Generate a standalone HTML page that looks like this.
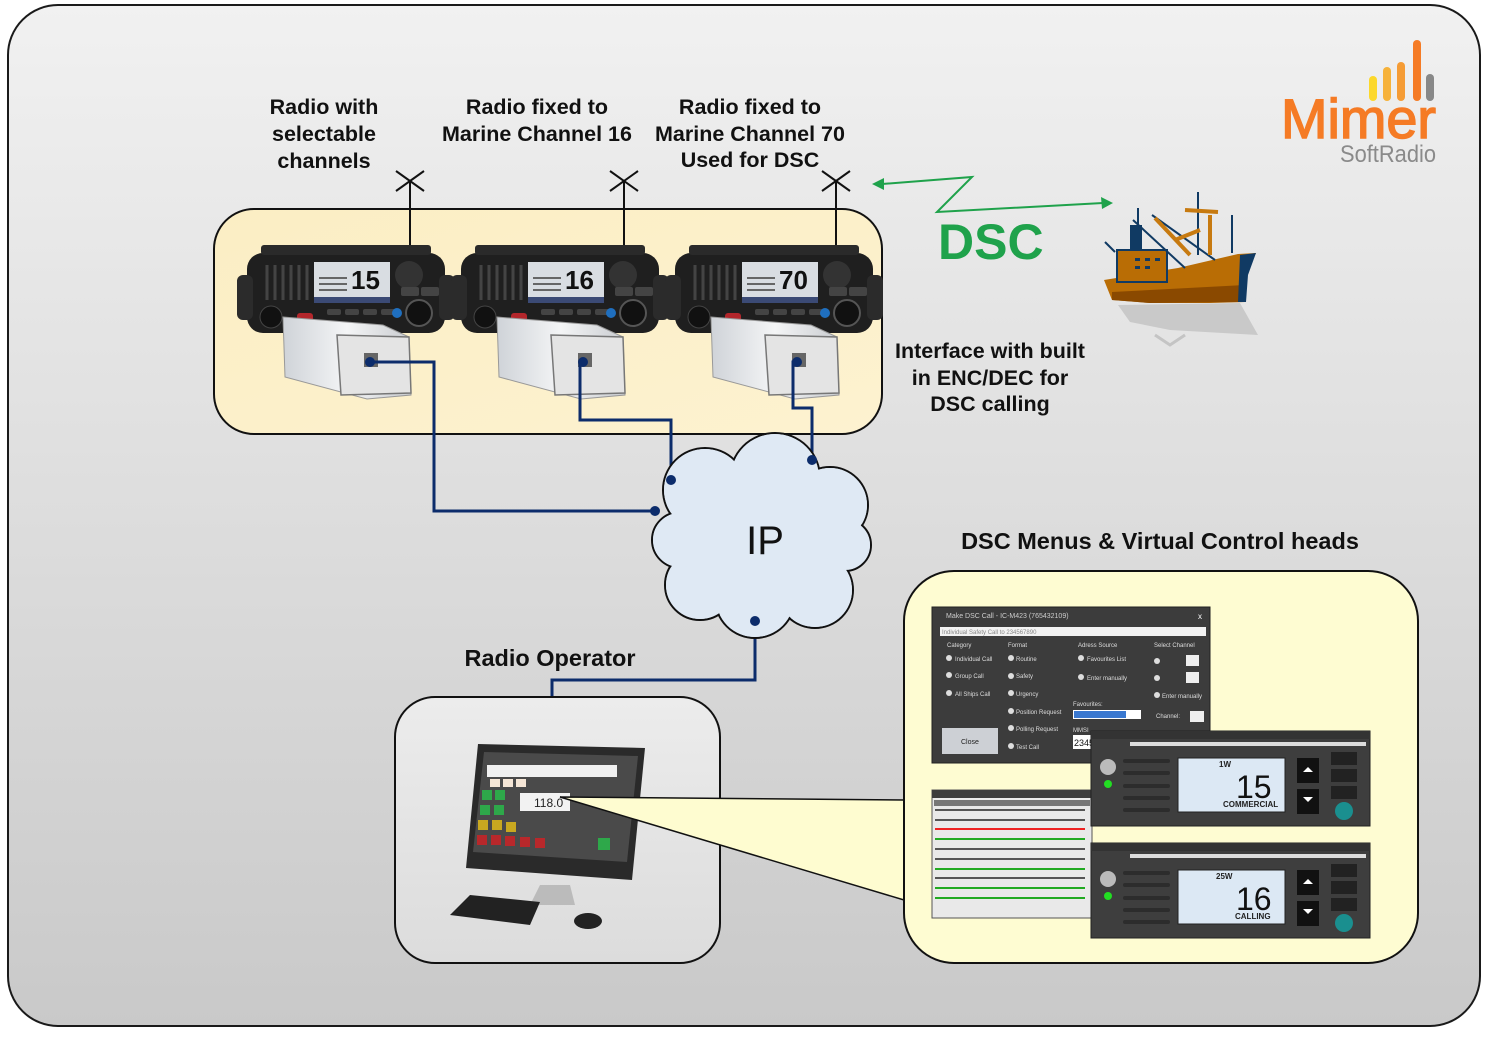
<!DOCTYPE html>
<html><head><meta charset="utf-8"><style>html,body{margin:0;padding:0;background:#fff}svg{display:block}text{font-family:"Liberation Sans",sans-serif}</style></head><body>
<svg width="1488" height="1037" viewBox="0 0 1488 1037" xmlns="http://www.w3.org/2000/svg">
<defs>
<linearGradient id="bg" x1="0" y1="0" x2="0" y2="1"><stop offset="0" stop-color="#f1f1f1"/><stop offset="1" stop-color="#c9c9c9"/></linearGradient>
<linearGradient id="yb" x1="0" y1="0" x2="1" y2="1"><stop offset="0" stop-color="#fbeec4"/><stop offset="1" stop-color="#fdf2d0"/></linearGradient>
<linearGradient id="opb" x1="0" y1="0" x2="0" y2="1"><stop offset="0" stop-color="#ececec"/><stop offset="1" stop-color="#dcdcdc"/></linearGradient>
<linearGradient id="box" x1="0" y1="0" x2="1" y2="0"><stop offset="0" stop-color="#cfd3d8"/><stop offset="0.5" stop-color="#f4f5f6"/><stop offset="1" stop-color="#c9ccd0"/></linearGradient>
<g id="radio">
<rect x="0" y="8" width="198" height="80" rx="16" fill="#1f1f1f"/>
<rect x="-10" y="30" width="16" height="45" rx="6" fill="#2b2b2b"/>
<rect x="192" y="30" width="16" height="45" rx="6" fill="#2b2b2b"/>
<rect x="14" y="0" width="170" height="10" rx="3" fill="#2a2a2a"/>
<g stroke="#444" stroke-width="3"><line x1="20" y1="20" x2="20" y2="55"/><line x1="28" y1="20" x2="28" y2="55"/><line x1="36" y1="20" x2="36" y2="55"/><line x1="44" y1="20" x2="44" y2="55"/><line x1="52" y1="20" x2="52" y2="55"/><line x1="60" y1="20" x2="60" y2="55"/></g>
<rect x="67" y="17" width="76" height="41" fill="#d9dde2"/>
<rect x="67" y="52" width="76" height="6" fill="#3b4a75"/>
<rect x="72" y="32" width="28" height="2" fill="#666"/><rect x="72" y="38" width="28" height="2" fill="#666"/><rect x="72" y="44" width="28" height="2" fill="#666"/>
<rect x="50" y="68" width="16" height="14" rx="3" fill="#b3262b"/>
<circle cx="24" cy="72" r="11" fill="#111" stroke="#444"/>
<rect x="80" y="64" width="14" height="6" rx="2" fill="#444"/><rect x="98" y="64" width="14" height="6" rx="2" fill="#444"/><rect x="116" y="64" width="14" height="6" rx="2" fill="#444"/><rect x="134" y="64" width="14" height="6" rx="2" fill="#444"/>
<circle cx="162" cy="30" r="14" fill="#333"/>
<rect x="154" y="42" width="18" height="9" rx="2" fill="#444"/><rect x="174" y="42" width="18" height="9" rx="2" fill="#444"/>
<circle cx="172" cy="68" r="13" fill="#111" stroke="#555" stroke-width="2"/>
<circle cx="150" cy="68" r="5" fill="#1f6fbf"/>
</g>
<g id="ifb">
<polygon points="36,72 136,80 162,92 164,150 120,154 38,132" fill="url(#box)" stroke="#999"/>
<polygon points="90,90 162,92 164,148 94,150" fill="#e4e4e4" stroke="#777" stroke-width="1.5"/>
<rect x="117" y="108" width="14" height="14" fill="#666"/>
</g>
</defs>
<rect x="8" y="5" width="1472" height="1021" rx="50" fill="url(#bg)" stroke="#1a1a1a" stroke-width="2"/>

<!-- Logo -->
<g stroke-linecap="round" stroke-width="8">
<line x1="1373" y1="80" x2="1373" y2="97" stroke="#fcd82b"/>
<line x1="1387" y1="71" x2="1387" y2="97" stroke="#f6b23a"/>
<line x1="1401" y1="66" x2="1401" y2="97" stroke="#f59c35"/>
<line x1="1417" y1="44" x2="1417" y2="97" stroke="#f57b25"/>
<line x1="1430" y1="78" x2="1430" y2="97" stroke="#888"/>
</g>
<text x="1281" y="138" font-size="56" fill="#f57b25" stroke="#f57b25" stroke-width="1.5" textLength="155" lengthAdjust="spacingAndGlyphs">Mimer</text>
<text x="1340" y="162" font-size="24" fill="#8a8a8a" textLength="96" lengthAdjust="spacingAndGlyphs">SoftRadio</text>

<!-- top labels -->
<g font-size="21.5" font-weight="bold" fill="#111" text-anchor="middle">
<text x="324" y="114">Radio with</text><text x="324" y="141">selectable</text><text x="324" y="168">channels</text>
<text x="537" y="114">Radio fixed to</text><text x="537" y="141">Marine Channel 16</text>
<text x="750" y="114">Radio fixed to</text><text x="750" y="141">Marine Channel 70</text><text x="750" y="167">Used for DSC</text>
<text x="990" y="358">Interface with built</text><text x="990" y="385">in ENC/DEC for</text><text x="990" y="411">DSC calling</text>
<text x="1160" y="549" font-size="23.5">DSC Menus &amp; Virtual Control heads</text>
<text x="550" y="666" font-size="23.5">Radio Operator</text>
</g>

<!-- yellow radio box -->
<rect x="214" y="209" width="668" height="225" rx="40" fill="url(#yb)" stroke="#111" stroke-width="2"/>
<g stroke="#111" stroke-width="2">
<line x1="410" y1="181" x2="410" y2="248"/><line x1="396" y1="171" x2="424" y2="191"/><line x1="396" y1="191" x2="424" y2="171"/>
<line x1="624" y1="181" x2="624" y2="248"/><line x1="610" y1="171" x2="638" y2="191"/><line x1="610" y1="191" x2="638" y2="171"/>
<line x1="836" y1="181" x2="836" y2="248"/><line x1="822" y1="171" x2="850" y2="191"/><line x1="822" y1="191" x2="850" y2="171"/>
</g>
<g transform="translate(247,245)"><use href="#radio"/><text x="104" y="44" font-size="26" font-weight="bold" fill="#111">15</text><use href="#ifb"/></g>
<g transform="translate(461,245)"><use href="#radio"/><text x="104" y="44" font-size="26" font-weight="bold" fill="#111">16</text><use href="#ifb"/></g>
<g transform="translate(675,245)"><use href="#radio"/><text x="104" y="44" font-size="26" font-weight="bold" fill="#111">70</text><use href="#ifb"/></g>

<!-- DSC -->
<text x="938" y="259" font-size="50" font-weight="bold" fill="#1fa24b">DSC</text>
<polyline points="882,184 972,177 937,212 1103,203" fill="none" stroke="#1fa24b" stroke-width="2"/>
<polygon points="872,184 884,178 884,190" fill="#1fa24b"/>
<polygon points="1113,203 1101,197 1102,209" fill="#1fa24b"/>

<!-- ship -->
<g>
<polygon points="1118,305 1240,303 1258,335 1170,330 1130,322" fill="#c9c9c9"/>
<polyline points="1155,335 1170,345 1185,335 M1185,345 1200,355 1215,345" fill="none" stroke="#c4c4c4" stroke-width="3"/>
<polygon points="1104,280 1178,268 1238,254 1256,253 1248,270 1245,302 1210,303 1150,303 1112,300" fill="#b96d05"/>
<polygon points="1112,292 1245,285 1245,302 1150,303 1112,300" fill="#8a4900"/>
<polygon points="1240,255 1256,253 1248,275 1246,302 1238,302" fill="#103a63"/>
<rect x="1117" y="250" width="50" height="32" fill="#b96d05" stroke="#103a63" stroke-width="2"/>
<rect x="1130" y="225" width="12" height="25" fill="#103a63"/>
<g fill="#103a63"><rect x="1135" y="258" width="5" height="3"/><rect x="1145" y="258" width="5" height="3"/><rect x="1155" y="258" width="5" height="3"/><rect x="1135" y="266" width="5" height="3"/><rect x="1145" y="266" width="5" height="3"/></g>
<g stroke="#103a63" stroke-width="2" fill="none"><line x1="1138" y1="208" x2="1138" y2="225"/><line x1="1198" y1="192" x2="1198" y2="255"/><line x1="1232" y1="215" x2="1232" y2="253"/><line x1="1133" y1="220" x2="1185" y2="268"/><line x1="1152" y1="215" x2="1215" y2="260"/><line x1="1105" y1="242" x2="1115" y2="252"/></g>
<g stroke="#c77a10" stroke-width="4" fill="none"><line x1="1185" y1="210" x2="1218" y2="212"/><line x1="1155" y1="218" x2="1190" y2="255"/><line x1="1175" y1="240" x2="1200" y2="230"/><line x1="1210" y1="215" x2="1210" y2="255"/></g>
</g>

<!-- blue links -->
<g fill="none" stroke="#0c2c6b" stroke-width="3">
<polyline points="370,362 434,362 434,511 655,511"/>
<polyline points="583,362 580,362 580,420 671,420 671,480"/>
<polyline points="797,362 793,362 793,408 812,408 812,460"/>
<polyline points="755,621 755,680 552,680 552,740"/>
</g>

<!-- cloud -->
<g fill="#dfe9f4" stroke="#111" stroke-width="2">
<circle cx="705" cy="490" r="42"/><circle cx="775" cy="478" r="45"/><circle cx="830" cy="505" r="38"/><circle cx="845" cy="545" r="26"/><circle cx="815" cy="590" r="38"/><circle cx="755" cy="598" r="40"/><circle cx="700" cy="585" r="35"/><circle cx="680" cy="540" r="28"/>
</g>
<g fill="#dfe9f4">
<circle cx="705" cy="490" r="41"/><circle cx="775" cy="478" r="44"/><circle cx="830" cy="505" r="37"/><circle cx="845" cy="545" r="25"/><circle cx="815" cy="590" r="37"/><circle cx="755" cy="598" r="39"/><circle cx="700" cy="585" r="34"/><circle cx="680" cy="540" r="27"/><circle cx="760" cy="540" r="70"/>
</g>
<text x="765" y="554" font-size="40" text-anchor="middle" fill="#111">IP</text>
<g fill="#0c2c6b"><circle cx="655" cy="511" r="5"/><circle cx="671" cy="480" r="5"/><circle cx="812" cy="460" r="5"/><circle cx="755" cy="621" r="5"/><circle cx="552" cy="740" r="5"/><circle cx="370" cy="362" r="5"/><circle cx="583" cy="362" r="5"/><circle cx="797" cy="362" r="5"/></g>

<!-- operator box -->
<rect x="395" y="697" width="325" height="266" rx="40" fill="url(#opb)" stroke="#111" stroke-width="2"/>
<polygon points="478,744 645,748 632,880 466,868" fill="#2a2a2a"/>
<polygon points="484,752 638,756 627,862 473,852" fill="#4a4a4a"/>
<g>
<rect x="487" y="765" width="130" height="12" fill="#f0f0f0"/>
<g fill="#f5e6d6"><rect x="490" y="779" width="10" height="8"/><rect x="503" y="779" width="10" height="8"/><rect x="516" y="779" width="10" height="8"/></g>
<g fill="#2ea84a"><rect x="482" y="790" width="10" height="10"/><rect x="495" y="790" width="10" height="10"/><rect x="480" y="805" width="10" height="10"/><rect x="494" y="805" width="10" height="10"/></g>
<g fill="#c8a820"><rect x="478" y="820" width="10" height="10"/><rect x="492" y="820" width="10" height="10"/><rect x="506" y="822" width="10" height="10"/></g>
<g fill="#b8282b"><rect x="477" y="835" width="10" height="10"/><rect x="491" y="835" width="10" height="10"/><rect x="505" y="836" width="10" height="10"/><rect x="520" y="837" width="10" height="10"/><rect x="535" y="838" width="10" height="10"/></g>
<rect x="520" y="793" width="50" height="18" fill="#f2f2f2"/><text x="534" y="807" font-size="12" fill="#222">118.0</text>
<rect x="598" y="838" width="12" height="12" fill="#2ea84a"/>
</g>
<polygon points="540,885 570,885 575,905 530,905" fill="#bbb"/>
<polygon points="470,895 540,902 530,925 450,915" fill="#222"/>
<ellipse cx="588" cy="921" rx="14" ry="8" fill="#222"/>

<!-- callout -->
<polygon points="560,797 904,800 904,900" fill="#fefcd0" stroke="#111" stroke-width="1.5"/>

<!-- right panel -->
<rect x="904" y="571" width="514" height="392" rx="50" fill="#fefcd2" stroke="#111" stroke-width="2"/>
<rect x="932" y="607" width="278" height="156" fill="#3c3c3c" stroke="#222"/>
<text x="946" y="618" font-size="7" fill="#ccc">Make DSC Call - IC-M423 (765432109)</text>
<text x="1198" y="619" font-size="8" fill="#fff">x</text>
<rect x="940" y="627" width="266" height="9" fill="#f2f2f2"/>
<text x="942" y="634" font-size="6" fill="#888">Individual Safety Call to 234567890</text>
<g font-size="6" fill="#ddd">
<text x="947" y="647">Category</text><text x="1008" y="647">Format</text><text x="1078" y="647">Adress Source</text><text x="1154" y="647">Select Channel</text>
<text x="955" y="661">Individual Call</text><text x="955" y="678">Group Call</text><text x="955" y="696">All Ships Call</text>
<text x="1016" y="661">Routine</text><text x="1016" y="678">Safety</text><text x="1016" y="696">Urgency</text><text x="1016" y="714">Position Request</text><text x="1016" y="731">Polling Request</text><text x="1016" y="749">Test Call</text>
<text x="1087" y="661">Favourites List</text><text x="1087" y="680">Enter manually</text><text x="1073" y="706">Favourites:</text><text x="1073" y="732">MMSI</text>
<text x="1162" y="698">Enter manually</text><text x="1156" y="718">Channel:</text>
</g>
<g fill="#ddd"><circle cx="949" cy="658" r="3"/><circle cx="949" cy="675" r="3"/><circle cx="949" cy="693" r="3"/><circle cx="1011" cy="658" r="3"/><circle cx="1011" cy="676" r="3"/><circle cx="1011" cy="693" r="3"/><circle cx="1011" cy="711" r="3"/><circle cx="1011" cy="728" r="3"/><circle cx="1011" cy="746" r="3"/><circle cx="1081" cy="658" r="3"/><circle cx="1081" cy="677" r="3"/><circle cx="1157" cy="661" r="3"/><circle cx="1157" cy="678" r="3"/><circle cx="1157" cy="695" r="3"/></g>
<rect x="1186" y="655" width="13" height="11" fill="#eee"/><rect x="1186" y="672" width="13" height="11" fill="#eee"/><rect x="1190" y="711" width="14" height="11" fill="#eee"/>
<rect x="1073" y="710" width="68" height="9" fill="#fff"/><rect x="1074" y="711" width="52" height="7" fill="#3a78d0"/>
<rect x="1073" y="735" width="20" height="14" fill="#fff"/><text x="1074" y="746" font-size="9" fill="#111">2345</text>
<rect x="942" y="728" width="56" height="26" fill="#cdd0d5"/><text x="961" y="744" font-size="7" fill="#222">Close</text>
<rect x="932" y="790" width="160" height="128" fill="#e9e9e9" stroke="#555"/>
<rect x="932" y="790" width="160" height="8" fill="#3c3c3c"/>
<rect x="934" y="800" width="156" height="6" fill="#777"/>
<g fill="#555"><rect x="935" y="809" width="150" height="2"/><rect x="935" y="819" width="150" height="2"/><rect x="935" y="848" width="150" height="2"/><rect x="935" y="858" width="150" height="2"/><rect x="935" y="877" width="150" height="2"/></g>
<g fill="#e22"><rect x="935" y="828" width="150" height="2"/></g>
<g fill="#2a2"><rect x="935" y="838" width="150" height="2"/><rect x="935" y="868" width="150" height="2"/><rect x="935" y="887" width="150" height="2"/><rect x="935" y="897" width="150" height="2"/></g>
<g id="ch">
<rect x="1091" y="731" width="279" height="95" fill="#3e3e3e" stroke="#222"/>
<rect x="1091" y="731" width="279" height="8" fill="#333"/>
<rect x="1130" y="742" width="236" height="4" fill="#ddd"/>
<circle cx="1108" cy="767" r="8" fill="#bbb"/><circle cx="1108" cy="784" r="4" fill="#22dd22"/>
<g fill="#2c2c2c"><rect x="1123" y="759" width="47" height="4" rx="2"/><rect x="1123" y="771" width="47" height="4" rx="2"/><rect x="1123" y="784" width="47" height="4" rx="2"/><rect x="1123" y="796" width="47" height="4" rx="2"/><rect x="1123" y="808" width="47" height="4" rx="2"/></g>
<rect x="1178" y="758" width="107" height="54" fill="#dce8f4" stroke="#222"/>
<rect x="1297" y="758" width="22" height="25" fill="#111"/><rect x="1297" y="789" width="22" height="25" fill="#111"/>
<polygon points="1303,772 1308,767 1313,772" fill="#fff"/><polygon points="1303,797 1313,797 1308,802" fill="#fff"/>
<rect x="1331" y="752" width="26" height="13" fill="#222"/><rect x="1331" y="769" width="26" height="13" fill="#222"/><rect x="1331" y="786" width="26" height="13" fill="#222"/>
<circle cx="1344" cy="811" r="9" fill="#1a8f8f"/>
</g>
<text x="1219" y="767" font-size="8" font-weight="bold" fill="#222">1W</text>
<text x="1236" y="798" font-size="32" fill="#111">15</text>
<text x="1223" y="807" font-size="8" font-weight="bold" fill="#222">COMMERCIAL</text>
<use href="#ch" transform="translate(0,112)"/>
<text x="1216" y="879" font-size="8" font-weight="bold" fill="#222">25W</text>
<text x="1236" y="910" font-size="32" fill="#111">16</text>
<text x="1235" y="919" font-size="8" font-weight="bold" fill="#222">CALLING</text>
</svg>
</body></html>
